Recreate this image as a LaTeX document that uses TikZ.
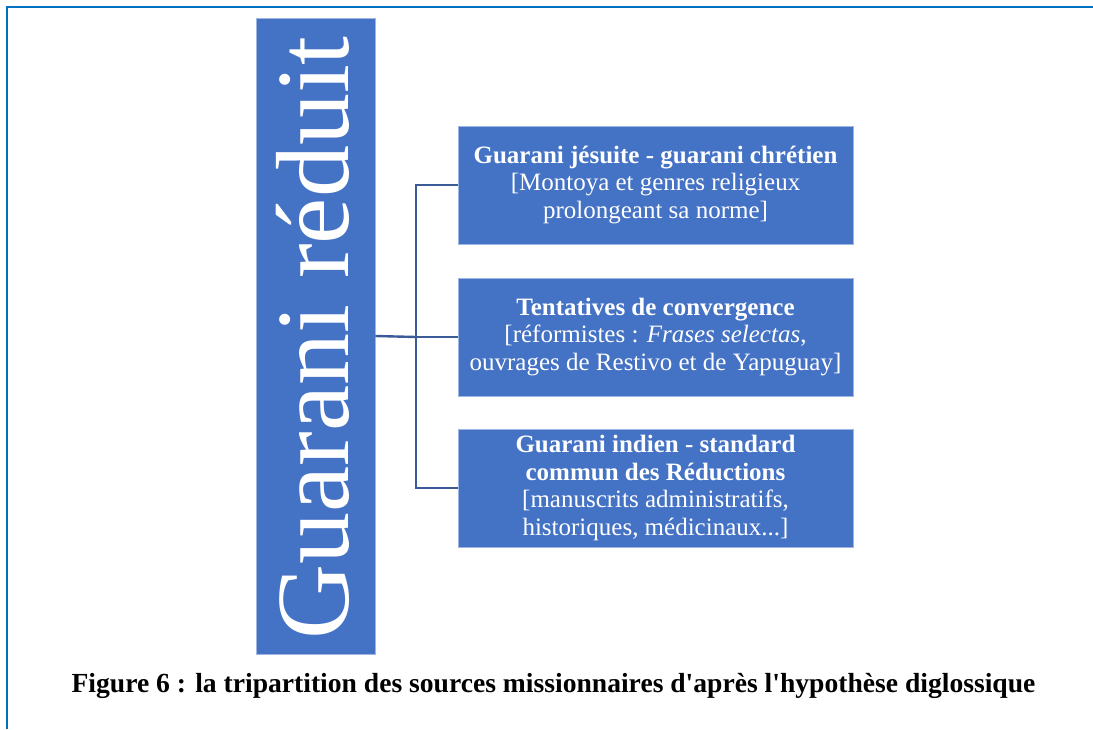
\documentclass[tikz,border=0pt]{standalone}
\usepackage{fontspec}
\setmainfont{Liberation Serif}
\definecolor{boxblue}{HTML}{4472C4}
\definecolor{boxedge}{HTML}{9FB6E2}
\definecolor{connblue}{HTML}{3A5A98}
\definecolor{frameblue}{HTML}{0070C0}
\begin{document}
\begin{tikzpicture}[x=1pt,y=-1pt,
  leaf/.style={rectangle, fill=boxblue, draw=boxedge, line width=0.8pt,
    minimum width=395pt, minimum height=118pt, inner sep=2pt,
    text=white, align=center, font=\fontsize{25}{27.5}\selectfont},
  root/.style={rectangle, fill=boxblue, draw=boxedge, line width=0.8pt,
    minimum width=119pt, minimum height=636pt, inner sep=0pt, text=white},
  conn/.style={draw=connblue, line width=2.4pt},
  frame/.style={draw=frameblue, line width=2.2pt}]
\useasboundingbox (0,0) rectangle (1093,729);
\draw[frame] (7,729) -- (7,7) -- (1093,7);
\node[root] (big) at (315.5,336) {};
\node[text=white, rotate=90, font=\fontsize{104}{104}\selectfont] (bigtext) at (313,338) {Guarani réduit};
\node[leaf] (b1) at (655.5,185) {\textbf{Guarani jésuite - guarani chrétien}\\{[}Montoya et genres religieux\\prolongeant sa norme]};
\node[leaf] (b2) at (655.5,337) {\textbf{Tentatives de convergence}\\{[}réformistes : \textit{Frases selectas},\\ouvrages de Restivo et de Yapuguay]};
\node[leaf] (b3) at (655.5,488) {\textbf{Guarani indien - standard}\\\textbf{commun des Réductions}\\{[}manuscrits administratifs,\\historiques, médicinaux...]};
\coordinate (j) at (416,337);
\draw[conn] (big.east) -- (j);
\draw[conn] (j) -- (b2.west);
\draw[conn] (b1.west) -- (b1.west -| j) -- (b3.west -| j) -- (b3.west);
\node[font=\fontsize{27.6}{30}\selectfont\bfseries] (cap) at (553.5,686) {Figure 6 : la tripartition des sources missionnaires d\textquotesingle après l\textquotesingle hypothèse diglossique};
\end{tikzpicture}
\end{document}
